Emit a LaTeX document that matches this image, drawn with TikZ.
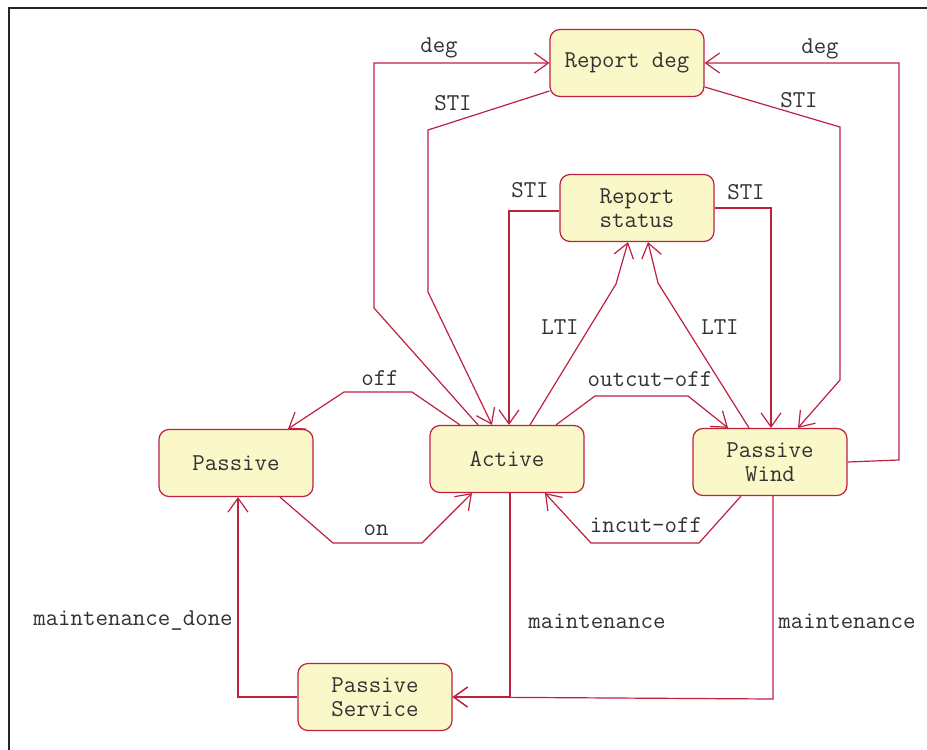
\documentclass[tikz,border=0pt]{standalone}
\usepackage{fontspec}
\usetikzlibrary{arrows.meta}
\definecolor{umlred}{RGB}{190,32,64}
\definecolor{umlfill}{RGB}{250,248,200}
\definecolor{umltext}{RGB}{50,50,50}
\begin{document}
\begin{tikzpicture}[
        x=0.5pt, y=-0.5pt,
        semithick ,
        state/.style ={ draw=umlred, fill=umlfill, rounded corners=5pt, line width=0.6pt, text=umltext, align=center, minimum width=77pt, minimum height=33.5pt, font=\ttfamily\fontsize{12.1}{12}\selectfont},
        trans/.style ={ draw=umlred, line width=0.6pt, -{Straight Barb[length=7pt,width=10pt]}},
        lbl/.style ={ text=umltext, inner sep=0pt, font=\ttfamily\fontsize{12.1}{12}\selectfont},
    ]
    \useasboundingbox (0,0) rectangle (927,750);
    \draw[line width=1.2pt, black!85] (9,750) -- (9,8) -- (927,8);

    \node[state] (rdeg) at (627,63) {Report deg};
    \node[state] (rstat) at (637,208) {Report\\status};
    \node[state] (passive) at (236,463) {Passive};
    \node[state] (active) at (507,459) {Active};
    \node[state] (pwind) at (770,462) {Passive\\Wind};
    \node[state] (pservice) at (375,697) {Passive\\Service};

    \draw[trans] (active.north -| 478,0) -- (374,308) -- (374,63) -- (rdeg.west);
    \draw[trans] (rdeg.west |- 0,91) -- (428,130) -- (428,292) -- (active.north -| 492,0);
    \draw[trans] (pwind.east) -- (899,460) -- (899,63) -- (rdeg.east);
    \draw[trans] (rdeg.east |- 0,87) -- (840,127) -- (840,380) -- (pwind.north -| 798,0);
    \draw[trans] (rstat.west |- 0,211) -- (509,211) -- (active.north -| 509,0);
    \draw[trans] (rstat.east) -- (771,208) -- (pwind.north -| 771,0);
    \draw[trans] (active.north -| 530,0) -- (616,284) -- (rstat.south -| 628,0);
    \draw[trans] (pwind.north -| 749,0) -- (658,283) -- (rstat.south -| 648,0);
    \draw[trans] (active.north -| 556,0) -- (595,396) -- (688,396) -- (pwind.north -| 728,0);
    \draw[trans] (active.north -| 460,0) -- (412,392) -- (344,392) -- (passive.north -| 288,0);
    \draw[trans] (passive.south -| 280,0) -- (333,543) -- (422,543) -- (active.south -| 472,0);
    \draw[trans] (pwind.south -| 741,0) -- (699,543) -- (591,543) -- (active.south -| 545,0);
    \draw[trans] (active.south -| 510,0) -- (510,697) -- (pservice.east);
    \draw[trans] (pwind.south -| 773,0) -- (773,699) -- (pservice.east);
    \draw[trans] (pservice.west) -- (238,697) -- (passive.south -| 238,0);

    \node[lbl] (ldegl) at (439,48) {deg};
    \node[lbl] (lstil) at (453,103) {STI};
    \node[lbl] (ldegr) at (820,49) {deg};
    \node[lbl] (lstir) at (799,100) {STI};
    \node[lbl] (lstia) at (530,190) {STI};
    \node[lbl] (lstiw) at (746,192) {STI};
    \node[lbl] (lltia) at (560,327) {LTI};
    \node[lbl] (lltiw) at (720,327) {LTI};
    \node[lbl] (lout) at (650,379) {outcut-off};
    \node[lbl] (loff) at (380,378) {off};
    \node[lbl] (lon) at (376,530) {on};
    \node[lbl] (lin) at (646,525) {incut-off};
    \node[lbl] (lmaina) at (597,621) {maintenance};
    \node[lbl] (lmainw) at (847,621) {maintenance};
    \node[lbl] (ldone) at (133,621) {maintenance\_done};
\end{tikzpicture}
\end{document}
